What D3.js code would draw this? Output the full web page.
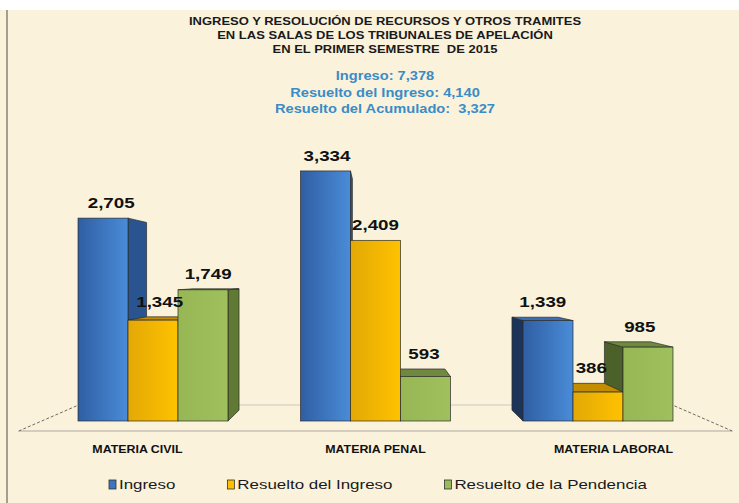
<!DOCTYPE html>
<html><head><meta charset="utf-8">
<script src="https://cdn.jsdelivr.net/npm/d3@7"></script>
<style>
html,body{margin:0;padding:0;background:#fff;}
svg{display:block;}
text{font-family:"Liberation Sans",Arial,sans-serif;}
</style></head><body>
<svg id="chart" width="739" height="503"></svg>
<script>
// ---------- data ----------
const titleLines = ["INGRESO Y RESOLUCIÓN DE RECURSOS Y OTROS TRAMITES","EN LAS SALAS DE LOS TRIBUNALES DE APELACIÓN","EN EL PRIMER SEMESTRE  DE 2015"];
const summaryLines = ["Ingreso: 7,378","Resuelto del Ingreso: 4,140","Resuelto del Acumulado:  3,327"];
const categories = ["MATERIA CIVIL","MATERIA PENAL","MATERIA LABORAL"];
const seriesNames = ["Ingreso","Resuelto del Ingreso","Resuelto de la Pendencia"];
const ingreso = [2705, 3334, 1339];
const resueltoIngreso = [1345, 2409, 386];
const resueltoPendencia = [1749, 593, 985];
const seriesValues = [ingreso, resueltoIngreso, resueltoPendencia];

// ---------- styles ----------
const W = 739, H = 503;
const frontGrad = [["#2f5ea3","#4a8cd8"],["#e3a806","#ffc200"],["#97b755","#a0c05e"]];
const sideRight = ["#2a5490","#c08a00","#617a33"];
const sideLeft  = ["#1c3459","#a77800","#4b6129"];
const topCol    = ["#3b6db2","#c38d00","#6f8a3f"];
const legendFill = ["#3f74c0","#ffc000","#9bbb59"];

const svg = d3.select("#chart");
const defs = svg.append("defs");
frontGrad.forEach((g,i)=>{
  const lg = defs.append("linearGradient").attr("id","fg"+i).attr("x1","0").attr("x2","1").attr("y1","0").attr("y2","0");
  lg.append("stop").attr("offset","0%").attr("stop-color",g[0]);
  lg.append("stop").attr("offset","100%").attr("stop-color",g[1]);
});

// background
svg.append("rect").attr("width",W).attr("height",H).attr("fill","#ffffff");
svg.append("rect").attr("x",0).attr("y",10).attr("width",W).attr("height",H-10).attr("fill","#fbf2dc");
svg.append("line").attr("x1",7).attr("x2",7).attr("y1",10).attr("y2",H).attr("stroke","#a39d92").attr("stroke-width",2);

function stretch(sel, f){
  sel.each(function(){
    const w = this.getComputedTextLength();
    d3.select(this).attr("textLength", w*f).attr("lengthAdjust","spacingAndGlyphs");
  });
}

// ---------- scales ----------
const x = d3.scaleBand().domain(categories).range([41.75, 709.25]).paddingInner(0.326).paddingOuter(0.163);
const xs = d3.scaleBand().domain(seriesNames).range([0, x.bandwidth()]).padding(0);
const y = d3.scaleLinear().domain([0, 4000]).range([421, 121]);

// perspective
const vx = (x.range()[0] + x.range()[1]) / 2, vy = 276;
const sBack = 0.925, sFloorFront = 1.069, sFloorBack = 0.89, sLabel = 0.97;
const proj = (px, py, s) => [vx + (px - vx) * s, vy + (py - vy) * s];

// ---------- floor ----------
const fx0 = x.range()[0], fx1 = x.range()[1], fy = y(0);
const fl = svg.append("g");
const ffl = proj(fx0, fy, sFloorFront), ffr = proj(fx1, fy, sFloorFront);
const fbl = proj(fx0, fy, sFloorBack), fbr = proj(fx1, fy, sFloorBack);
fl.append("line").attr("x1",fbl[0]).attr("y1",fbl[1]).attr("x2",fbr[0]).attr("y2",fbr[1]).attr("stroke","#ddd6c9").attr("stroke-width",1.5);
fl.append("line").attr("x1",ffl[0]).attr("y1",ffl[1]).attr("x2",ffr[0]).attr("y2",ffr[1]).attr("stroke","#d4ccbf").attr("stroke-width",2);
fl.append("line").attr("x1",ffl[0]).attr("y1",ffl[1]).attr("x2",fbl[0]).attr("y2",fbl[1]).attr("stroke","#6e6a64").attr("stroke-width",1).attr("stroke-dasharray","3,2");
fl.append("line").attr("x1",ffr[0]).attr("y1",ffr[1]).attr("x2",fbr[0]).attr("y2",fbr[1]).attr("stroke","#6e6a64").attr("stroke-width",1).attr("stroke-dasharray","3,2");

// ---------- bars ----------
const bars = [];
categories.forEach((c,i)=>{
  seriesNames.forEach((s,j)=>{
    const x0 = x(c) + xs(s), x1 = x0 + xs.bandwidth();
    bars.push({c, s, j, v: seriesValues[j][i], x0, x1, yt: y(seriesValues[j][i]), yb: y(0)});
  });
});
const poly = pts => pts.map(p=>p.join(",")).join(" ");
const gSide = svg.append("g"), gTop = svg.append("g"), gFront = svg.append("g"), gLab = svg.append("g");
const stroke = "#2b2b2b", sw = 0.7;
bars.forEach(b=>{
  if (b.x1 < vx) {
    gSide.append("polygon").attr("points", poly([[b.x1,b.yt], proj(b.x1,b.yt,sBack), proj(b.x1,b.yb,sBack), [b.x1,b.yb]]))
      .attr("fill", sideRight[b.j]).attr("stroke",stroke).attr("stroke-width",sw);
  }
  if (b.x0 > vx) {
    gSide.append("polygon").attr("points", poly([[b.x0,b.yt], proj(b.x0,b.yt,sBack), proj(b.x0,b.yb,sBack), [b.x0,b.yb]]))
      .attr("fill", sideLeft[b.j]).attr("stroke",stroke).attr("stroke-width",sw);
  }
  if (b.yt > vy) {
    gTop.append("polygon").attr("points", poly([[b.x0,b.yt],[b.x1,b.yt], proj(b.x1,b.yt,sBack), proj(b.x0,b.yt,sBack)]))
      .attr("fill", topCol[b.j]).attr("stroke",stroke).attr("stroke-width",sw);
  }
  gFront.append("rect").attr("x",b.x0).attr("y",b.yt).attr("width",b.x1-b.x0).attr("height",b.yb-b.yt)
    .attr("fill","url(#fg"+b.j+")").attr("stroke",stroke).attr("stroke-width",sw);
  const mid = proj((b.x0+b.x1)/2, b.yt, sLabel);
  const back = proj((b.x0+b.x1)/2, b.yt, sBack);
  gLab.append("text").attr("class","val").attr("x", mid[0]).attr("y", Math.min(b.yt, back[1]) - 10)
    .attr("text-anchor","middle").attr("font-size",15).attr("font-weight","bold").attr("fill","#111")
    .text(d3.format(",")(b.v));
});
stretch(gLab.selectAll("text"), 1.25);

// ---------- category labels ----------
const gCat = svg.append("g");
categories.forEach(c=>{
  const cx = x(c) + x.bandwidth()/2;
  gCat.append("text").attr("x", cx + (cx - vx)*0.07).attr("y", 453).attr("text-anchor","middle")
    .attr("font-size",10).attr("font-weight","bold").attr("fill","#111").text(c);
});
stretch(gCat.selectAll("text"), 1.24);

// ---------- title ----------
const gT = svg.append("g");
titleLines.forEach((t,i)=>{
  gT.append("text").attr("x",385).attr("y",25 + i*14).attr("text-anchor","middle")
    .attr("font-size",11).attr("font-weight","bold").attr("fill","#1a1a1a").style("white-space","pre").text(t);
});
stretch(gT.selectAll("text"), 1.18);
const gS = svg.append("g");
summaryLines.forEach((t,i)=>{
  gS.append("text").attr("x",385).attr("y",80 + i*16.5).attr("text-anchor","middle")
    .attr("font-size",12).attr("font-weight","bold").attr("fill","#3a8cc6").style("white-space","pre").text(t);
});
stretch(gS.selectAll("text"), 1.22);

// ---------- legend ----------
const gL = svg.append("g");
let lx = 109;
seriesNames.forEach((s,j)=>{
  gL.append("rect").attr("x",lx).attr("y",480).attr("width",7).attr("height",9)
    .attr("fill",legendFill[j]).attr("stroke","#333").attr("stroke-width",0.8);
  const t = gL.append("text").attr("x",lx+10).attr("y",489).attr("font-size",13).attr("fill","#1a1a1a").text(s);
  const w = t.node().getComputedTextLength()*1.3;
  t.attr("textLength",w).attr("lengthAdjust","spacingAndGlyphs");
  lx += 10 + w + 52;
});
</script>
</body></html>
